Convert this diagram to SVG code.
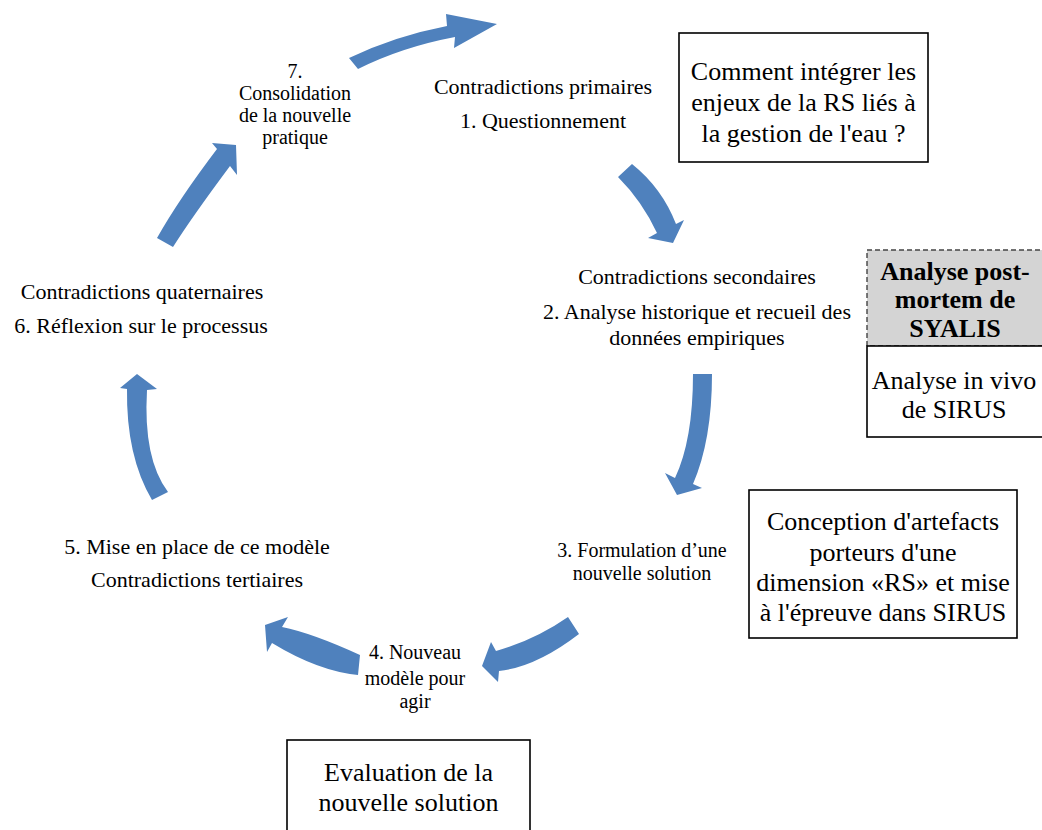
<svg xmlns="http://www.w3.org/2000/svg" width="1042" height="830" viewBox="0 0 1042 830">
<style>
text{font-family:"Liberation Serif","Times New Roman",serif;fill:#000;text-anchor:middle}
.l{font-size:22px}
.s{font-size:20px}
.b{font-size:26px}
.bb{font-size:26px;font-weight:bold}
.box{fill:#fff;stroke:#000;stroke-width:1.6}
.arr{fill:#4f81bd;stroke:none}
</style>
<rect width="1042" height="830" fill="#fff"/>
<g id="connectors">
<path class="arr" d="M349,58 Q395,36 447,26 L446,14 L497,24 L454,48 L455,37 Q402,47 358,69 Z"/>
<path class="arr" d="M632,164 Q662,188 676,224 L684,220 L673,243 L648,238 L657,233 Q642,201 618,177 Z"/>
<path class="arr" d="M693,374 Q693,440 675,478 L665,473 L677,495 L702,488 L693,484 Q712,440 712,374 Z"/>
<path class="arr" d="M568,617 Q535,640 496,651 L491,642 L482,666 L498,682 L499,671 Q536,667 579,634 Z"/>
<path class="arr" d="M360,655 Q312,633 282,627 L288,617 L265,625 L267,652 L272,643 Q318,671 358,675 Z"/>
<path class="arr" d="M152,500 Q126,456 127,389 L120,388 L137,374 L157,389 L147,390 Q143,459 168,492 Z"/>
<path class="arr" d="M157,238 Q179,199 217,149 L212,143 L236,145 L237,175 L230,166 Q192,217 173,247 Z"/>
</g>
<g id="step1">
<text class="l" x="543" y="94">Contradictions primaires</text>
<text class="l" x="543" y="128">1. Questionnement</text>
</g>
<g id="step2">
<text class="l" x="697" y="284">Contradictions secondaires</text>
<text class="l" x="697" y="319">2. Analyse historique et recueil des</text>
<text class="l" x="697" y="345">données empiriques</text>
</g>
<g id="step3">
<text class="s" x="642" y="557">3. Formulation d’une</text>
<text class="s" x="642" y="580">nouvelle solution</text>
</g>
<g id="step4">
<text class="s" x="415" y="659">4. Nouveau</text>
<text class="s" x="415" y="685">modèle pour</text>
<text class="s" x="415" y="708">agir</text>
</g>
<g id="step5">
<text class="l" x="197" y="554">5. Mise en place de ce modèle</text>
<text class="l" x="197" y="587">Contradictions tertiaires</text>
</g>
<g id="step6">
<text class="l" x="142" y="299">Contradictions quaternaires</text>
<text class="l" x="141" y="333">6. Réflexion sur le processus</text>
</g>
<g id="step7">
<text class="s" x="295" y="78">7.</text>
<text class="s" x="295" y="100">Consolidation</text>
<text class="s" x="295" y="122">de la nouvelle</text>
<text class="s" x="295" y="144">pratique</text>
</g>
<g id="box-question">
<rect class="box" x="679" y="33" width="249" height="129"/>
<text class="b" x="803.5" y="80">Comment intégrer les</text>
<text class="b" x="803.5" y="111">enjeux de la RS liés à</text>
<text class="b" x="803.5" y="142">la gestion de l'eau ?</text>
</g>
<g id="box-syalis">
<rect x="867" y="250" width="180" height="96" fill="#d4d4d4" stroke="#444" stroke-width="1.4" stroke-dasharray="5,3"/>
<text class="bb" x="955" y="280">Analyse post-</text>
<text class="bb" x="955" y="308">mortem de</text>
<text class="bb" x="955" y="337">SYALIS</text>
</g>
<g id="box-sirus">
<rect class="box" x="867" y="346" width="180" height="91"/>
<text class="b" x="954" y="389">Analyse in vivo</text>
<text class="b" x="954" y="418">de SIRUS</text>
</g>
<g id="box-conception">
<rect class="box" x="749" y="490" width="268" height="148"/>
<text class="b" x="883" y="530">Conception d'artefacts</text>
<text class="b" x="883" y="561">porteurs d'une</text>
<text class="b" x="883" y="591">dimension «RS» et mise</text>
<text class="b" x="883" y="621">à l'épreuve dans SIRUS</text>
</g>
<g id="box-evaluation">
<rect class="box" x="287" y="740" width="243" height="100"/>
<text class="b" x="408.5" y="781">Evaluation de la</text>
<text class="b" x="408.5" y="811">nouvelle solution</text>
</g>
</svg>
